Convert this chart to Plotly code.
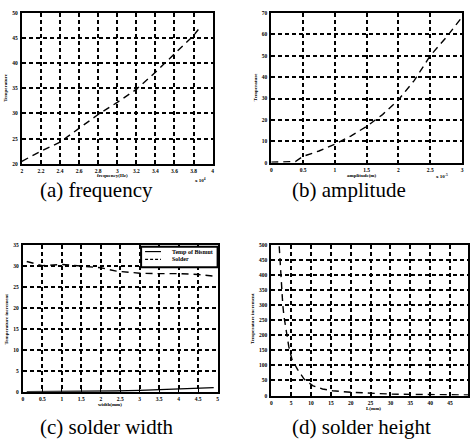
import plotly.graph_objects as go

# ---- data ----
freq_x = [2.0, 2.2, 2.4, 2.6, 2.8, 3.0, 3.2, 3.4, 3.6, 3.8, 3.85]
freq_y = [20.5, 22.5, 24.3, 27.0, 29.8, 32.2, 34.8, 38.2, 41.8, 45.5, 46.7]

amp_x = [0.0, 0.38, 0.5, 0.75, 1.0, 1.25, 1.5, 1.75, 2.0, 2.25, 2.5, 2.75, 3.0]
amp_y = [0.3, 0.6, 3.0, 5.5, 8.7, 12.5, 17.0, 22.5, 29.4, 38.5, 50.0, 58.5, 68.0]

width_x = [0.1, 0.5, 1.0, 1.5, 2.0, 2.4, 3.0, 3.5, 4.0, 4.5, 4.9]
width_top = [31.0, 30.0, 30.3, 29.9, 29.5, 28.7, 28.2, 28.1, 28.1, 27.9, 27.5]
width_bot = [0.0, 0.0, 0.05, 0.08, 0.1, 0.15, 0.3, 0.45, 0.6, 0.75, 0.95]
legend_names = ["Temp of Bismut", "Solder"]

height_x = [2.0, 2.3, 2.6, 2.9, 3.2, 3.9, 4.4, 5.2, 6.6, 8.3, 10.4, 12.9, 15.4, 20.0, 25.0, 30.0, 35.0, 40.0, 45.0, 50.0]
height_y = [495, 414, 354, 300, 262, 207, 163, 120, 87, 54, 33, 22, 16, 11, 7, 5, 4, 3, 3, 2]

captions = ["(a) frequency", "(b) amplitude", "(c) solder width", "(d) solder height"]
xtitles = ["frequency(Hz)", "amplitude(m)", "width(mm)", "L(mm)"]
ytitles = ["Temperature", "Temperature", "Temperature increment", "Temperature increment"]

W, H = 470, 441


def px(x):
    return x / W


def py(y):
    return 1 - y / H


fig = go.Figure()

ser_font = "Liberation Serif"
tickfont = dict(family=ser_font, size=5.5, color="black", weight="bold")
smallfont = dict(family=ser_font, size=5, color="black", weight="bold")

line_style = dict(color="black", width=1.4)
DASH = "7px,5px"

fig.add_trace(go.Scatter(x=freq_x, y=freq_y, mode="lines", xaxis="x", yaxis="y",
                         line=dict(dash=DASH, **line_style), showlegend=False))
fig.add_trace(go.Scatter(x=amp_x, y=amp_y, mode="lines", xaxis="x2", yaxis="y2",
                         line=dict(dash=DASH, **line_style), showlegend=False))
fig.add_trace(go.Scatter(x=width_x, y=width_bot, mode="lines", xaxis="x3", yaxis="y3",
                         line=dict(dash="solid", **line_style), name=legend_names[0],
                         showlegend=False))
fig.add_trace(go.Scatter(x=width_x, y=width_top, mode="lines", xaxis="x3", yaxis="y3",
                         line=dict(dash=DASH, **line_style), name=legend_names[1],
                         showlegend=False))
fig.add_trace(go.Scatter(x=height_x, y=height_y, mode="lines", xaxis="x4", yaxis="y4",
                         line=dict(dash=DASH, **line_style), showlegend=False))

common = dict(showline=True, linecolor="black", linewidth=2, mirror=True,
              showgrid=True, gridcolor="black", griddash="4px,3px", gridwidth=1.5,
              ticks="inside", ticklen=3, tickcolor="black", tickwidth=1,
              tickfont=tickfont, zeroline=False)

panels = [
    # x domain px, y domain px, xrange, yrange, xdtick, ydtick
    ((21, 213), (10, 163), [2, 4], [20, 50], 0.2, 5),
    ((272, 464), (10, 162), [0, 3], [0, 70], 0.5, 10),
    ((22, 218), (245, 394), [0, 5], [0, 35], 0.5, 5),
    ((272, 470), (245, 398), [0, 49.5], [0, 500], 5, 50),
]

layout = {}
for i, (xd, yd, xr, yr, xdt, ydt) in enumerate(panels):
    sfx = "" if i == 0 else str(i + 1)
    layout["xaxis" + sfx] = dict(domain=[px(xd[0]), px(xd[1])], range=xr, dtick=xdt,
                                 anchor="y" + sfx, tick0=xr[0], ticklabelstandoff=1, **common)
    layout["yaxis" + sfx] = dict(domain=[py(yd[1]), py(yd[0])], range=yr, dtick=ydt,
                                 anchor="x" + sfx, tick0=yr[0], ticklabelstandoff=1, **common)

fig.update_layout(**layout)

ann = []
cap_pos = [(96, 190), (350, 190), (106, 430), (363, 430)]
for t, (cx, cy) in zip(captions, cap_pos):
    ann.append(dict(text=t, x=px(cx), y=py(cy), xref="paper", yref="paper",
                    showarrow=False, xanchor="center", yanchor="middle",
                    font=dict(family=ser_font, size=21, color="black")))

xt_pos = [(112, 175), (363, 175), (110, 407), (375, 411)]
for t, (cx, cy) in zip(xtitles, xt_pos):
    ann.append(dict(text=t, x=px(cx), y=py(cy), xref="paper", yref="paper",
                    showarrow=False, xanchor="center", yanchor="middle",
                    font=smallfont))

yt_pos = [(5, 85), (256, 85), (6, 320), (253, 320)]
for t, (cx, cy) in zip(ytitles, yt_pos):
    ann.append(dict(text=t, x=px(cx), y=py(cy), xref="paper", yref="paper",
                    showarrow=False, xanchor="center", yanchor="middle", textangle=-90,
                    font=smallfont))

ann.append(dict(text="x 10<sup>4</sup>", x=px(201), y=py(179), xref="paper", yref="paper",
                showarrow=False, font=smallfont))
ann.append(dict(text="x 10<sup>-5</sup>", x=px(452), y=py(175), xref="paper", yref="paper",
                showarrow=False, font=smallfont))

# legend of panel (c), drawn by hand to fit the small box
shapes = [
    dict(type="rect", xref="paper", yref="paper", x0=px(141), x1=px(218), y0=py(268), y1=py(247),
         line=dict(color="black", width=2), fillcolor="white", layer="above"),
    dict(type="line", xref="paper", yref="paper", x0=px(145), x1=px(161), y0=py(252), y1=py(252),
         line=dict(color="black", width=1.2), layer="above"),
    dict(type="line", xref="paper", yref="paper", x0=px(145), x1=px(161), y0=py(260), y1=py(260),
         line=dict(color="black", width=1.2, dash="3px,2px"), layer="above"),
]
for t, yy in zip(legend_names, [252, 260]):
    ann.append(dict(text=t, x=px(170), y=py(yy), xref="paper", yref="paper",
                    showarrow=False, xanchor="left", yanchor="middle",
                    font=dict(family=ser_font, size=6, color="black", weight="bold")))

fig.update_layout(
    width=W, height=H,
    margin=dict(l=0, r=0, t=0, b=0),
    paper_bgcolor="white", plot_bgcolor="white",
    annotations=ann,
    shapes=shapes,
    showlegend=False,
)

fig.write_html("out.html", config={"displayModeBar": False},
               post_script="document.body.style.margin='0';")
